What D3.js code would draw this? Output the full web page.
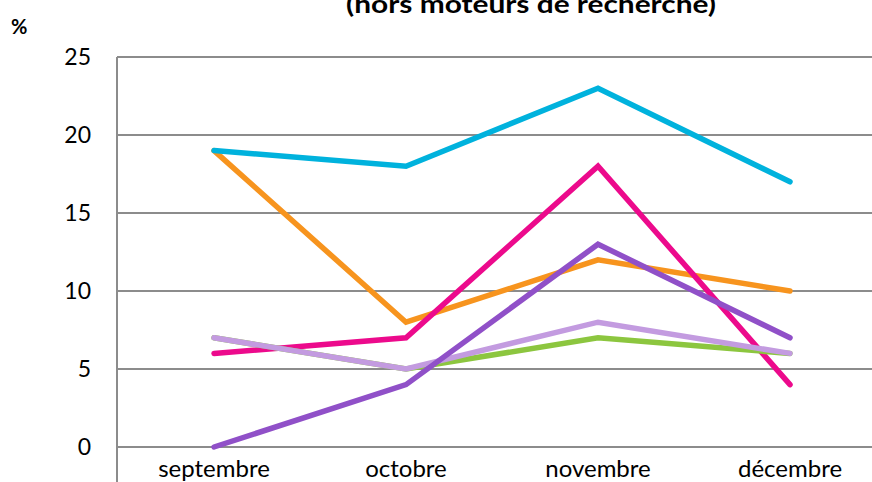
<!DOCTYPE html>
<html>
<head>
<meta charset="utf-8">
<script src="https://cdn.jsdelivr.net/npm/d3@7"></script>
<style>
  html, body { margin: 0; padding: 0; background: #fff; }
  svg { display: block; font-family: Lato, "Open Sans", sans-serif; }
</style>
</head>
<body>
<svg id="chart" width="872" height="482"></svg>
<script>
// Monthly shares (%) per source
const months = ["septembre", "octobre", "novembre", "décembre"];
const yTicks = [0, 5, 10, 15, 20, 25];

const seriesOrange = [19, 8, 12, 10];
const seriesCyan = [19, 18, 23, 17];
const seriesMagenta = [6, 7, 18, 4];
const seriesGreen = [7, 5, 7, 6];
const seriesLilac = [7, 5, 8, 6];
const seriesPurple = [0, 4, 13, 7];

// drawn bottom to top
const series = [
  { values: seriesOrange, color: "#f7941e" },
  { values: seriesCyan, color: "#00b2dd" },
  { values: seriesMagenta, color: "#ec0a8c" },
  { values: seriesGreen, color: "#8cc63f" },
  { values: seriesLilac, color: "#c39be0" },
  { values: seriesPurple, color: "#9050c8" }
];

const svg = d3.select("#chart");
const W = 872, H = 482;
const axisX = 117;

const x = d3.scalePoint().domain(months).range([214, 790]);
const y = d3.scaleLinear().domain([0, 25]).range([447, 57]);

// title (runs above the top edge of the frame)
svg.append("text")
  .attr("x", 531).attr("y", 13)
  .attr("text-anchor", "middle")
  .attr("font-weight", "bold")
  .attr("font-size", 25)
  .attr("textLength", 370)
  .attr("lengthAdjust", "spacingAndGlyphs")
  .attr("fill", "#000")
  .text("(hors moteurs de recherche)");

svg.append("text")
  .attr("x", 11).attr("y", 34)
  .attr("font-weight", "bold")
  .attr("font-size", 20)
  .attr("fill", "#000")
  .text("%");

// horizontal gridlines
svg.append("g").selectAll("line")
  .data(yTicks).join("line")
  .attr("x1", axisX).attr("x2", W)
  .attr("y1", d => y(d)).attr("y2", d => y(d))
  .attr("stroke", "#8c8c8c").attr("stroke-width", 2);

// y axis line
svg.append("line")
  .attr("x1", axisX).attr("x2", axisX)
  .attr("y1", y(25)).attr("y2", H)
  .attr("stroke", "#8c8c8c").attr("stroke-width", 2);

// y tick labels
svg.append("g").selectAll("text")
  .data(yTicks).join("text")
  .attr("x", 91).attr("y", d => y(d))
  .attr("dy", "0.36em")
  .attr("text-anchor", "end")
  .attr("font-size", 23)
  .attr("fill", "#000")
  .text(d => d);

// month labels
svg.append("g").selectAll("text")
  .data(months).join("text")
  .attr("x", d => x(d)).attr("y", 477)
  .attr("text-anchor", "middle")
  .attr("font-size", 24)
  .attr("fill", "#000")
  .text(d => d);

const line = d3.line()
  .x((d, i) => x(months[i]))
  .y(d => y(d));

svg.append("g").selectAll("path")
  .data(series).join("path")
  .attr("d", d => line(d.values))
  .attr("fill", "none")
  .attr("stroke", d => d.color)
  .attr("stroke-width", 5.5)
  .attr("stroke-linecap", "round")
  .attr("stroke-linejoin", "miter");
</script>
</body>
</html>
